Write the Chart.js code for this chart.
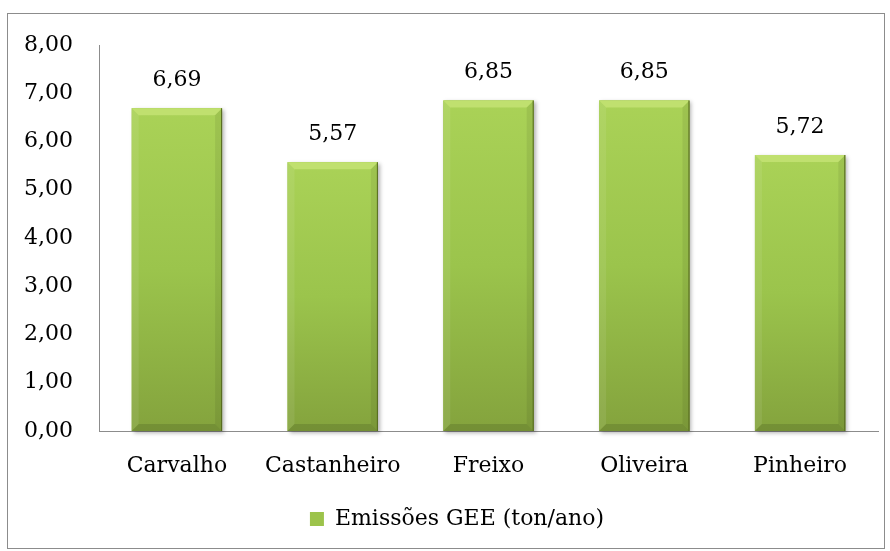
<!DOCTYPE html>
<html>
<head>
<meta charset="utf-8">
<script src="https://cdn.jsdelivr.net/npm/chart.js@4"></script>
<style>
  body { margin: 0; background: #fff; }
  #wrap { position: relative; width: 890px; height: 551px; }
</style>
</head>
<body>
<div id="wrap"><canvas id="geeChart" width="890" height="551"></canvas></div>
<script>
const categories = ["Carvalho", "Castanheiro", "Freixo", "Oliveira", "Pinheiro"];
const emissoes = [6.69, 5.57, 6.85, 6.85, 5.72];
const seriesLabel = "Emissões GEE (ton/ano)";

const fontFamily = "'DejaVu Serif', serif";
const fmt = (v) => v.toFixed(2).replace(".", ",");

// outer frame, and nudge legend to the right like the original
const framePlugin = {
  id: "frame",
  afterLayout(chart) {
    chart.legend.left += 18;
    chart.legend.right += 18;
  },
  beforeDraw(chart) {
    const c = chart.ctx;
    c.save();
    c.fillStyle = "#fff";
    c.fillRect(0, 0, chart.width, chart.height);
    c.strokeStyle = "#8c8c8c";
    c.lineWidth = 1;
    c.strokeRect(7.5, 13.5, 877, 535);
    c.restore();
  },
};

// bevelled bars + value labels
const bevelPlugin = {
  id: "bevel",
  afterDatasetsDraw(chart) {
    const c = chart.ctx;
    const meta = chart.getDatasetMeta(0);
    meta.data.forEach((bar, i) => {
      const w = bar.width;
      const l = bar.x - w / 2, r = bar.x + w / 2;
      const t = bar.y, b = bar.base;
      const bv = 7;
      c.save();
      c.shadowColor = "rgba(0,0,0,0.3)";
      c.shadowOffsetX = 2;
      c.shadowOffsetY = 2;
      c.shadowBlur = 4;
      const g = c.createLinearGradient(0, t, 0, b);
      g.addColorStop(0, "#aad257");
      g.addColorStop(0.5, "#9bc44c");
      g.addColorStop(1, "#84a33d");
      c.fillStyle = g;
      c.fillRect(l, t, w, b - t);
      c.restore();

      c.save();
      // top
      c.fillStyle = "#c0e06f";
      c.beginPath();
      c.moveTo(l, t); c.lineTo(r, t); c.lineTo(r - bv, t + bv); c.lineTo(l + bv, t + bv);
      c.closePath(); c.fill();
      // left
      c.fillStyle = "rgba(255,255,255,0.08)";
      c.beginPath();
      c.moveTo(l, t); c.lineTo(l + bv, t + bv); c.lineTo(l + bv, b - bv); c.lineTo(l, b);
      c.closePath(); c.fill();
      // right
      c.fillStyle = "rgba(0,0,0,0.07)";
      c.beginPath();
      c.moveTo(r, t); c.lineTo(r - bv, t + bv); c.lineTo(r - bv, b - bv); c.lineTo(r, b);
      c.closePath(); c.fill();
      // bottom
      c.fillStyle = "rgba(0,0,0,0.12)";
      c.beginPath();
      c.moveTo(l, b); c.lineTo(l + bv, b - bv); c.lineTo(r - bv, b - bv); c.lineTo(r, b);
      c.closePath(); c.fill();
      // dark edge right
      c.strokeStyle = "#55691f";
      c.lineWidth = 1;
      c.beginPath();
      c.moveTo(r - 0.5, t); c.lineTo(r - 0.5, b);
      c.stroke();
      c.restore();

      // value label
      c.save();
      c.fillStyle = "#000";
      c.font = "22px " + fontFamily;
      c.textAlign = "center";
      c.textBaseline = "middle";
      c.fillText(fmt(emissoes[i]), bar.x, t - 28);
      c.restore();
    });
  },
};

new Chart(document.getElementById("geeChart"), {
  type: "bar",
  data: {
    labels: categories,
    datasets: [
      {
        label: seriesLabel,
        data: emissoes,
        backgroundColor: "#9cc34b",
        borderWidth: 0,
        categoryPercentage: 1,
        barPercentage: 0.58,
      },
    ],
  },
  options: {
    responsive: false,
    animation: false,
    layout: { padding: { left: 0, right: 12, top: 45, bottom: 11 } },
    plugins: {
      tooltip: { enabled: false },
      legend: {
        position: "bottom",
        labels: {
          color: "#000",
          font: { family: fontFamily, size: 22 },
          boxWidth: 14,
          boxHeight: 14,
          padding: 10,
        },
      },
    },
    scales: {
      x: {
        grid: { display: false, drawTicks: false },
        border: { color: "#8c8c8c", width: 1 },
        ticks: { color: "#000", font: { family: fontFamily, size: 22 }, padding: 22 },
        afterFit(scale) { scale.height = 67; },
      },
      y: {
        min: 0,
        max: 8,
        grid: { display: false, drawTicks: false },
        border: { color: "#8c8c8c", width: 1 },
        ticks: {
          stepSize: 1,
          color: "#000",
          font: { family: fontFamily, size: 22 },
          padding: 26,
          callback: (v) => fmt(v),
        },
        afterFit(scale) { scale.width = 99; },
      },
    },
  },
  plugins: [framePlugin, bevelPlugin],
});
</script>
</body>
</html>
